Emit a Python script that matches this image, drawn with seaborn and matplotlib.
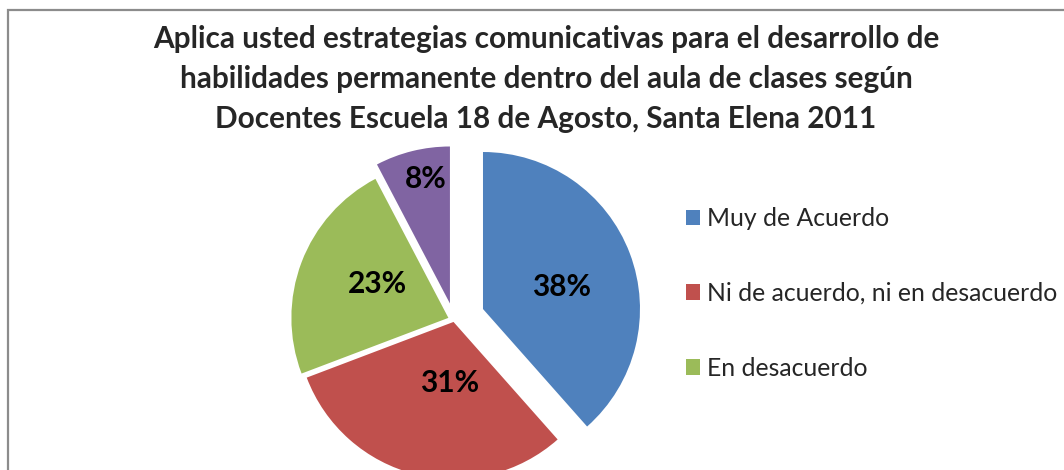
import numpy as np
import seaborn as sns
import matplotlib.pyplot as plt
from matplotlib.patches import Rectangle, Patch

# data
categorias = ["Muy de Acuerdo", "Ni de acuerdo, ni en desacuerdo", "En desacuerdo", "Otro"]
docentes = [5, 4, 3, 1]
en_leyenda = 3  # only the first three show up in the legend
colores = ["#4F81BD", "#C0504D", "#9BBB59", "#8064A2"]
titulo = ("Aplica usted estrategias comunicativas para el desarrollo de\n"
          "habilidades permanente dentro del aula de clases según\n"
          "Docentes Escuela 18 de Agosto, Santa Elena 2011")

# slice offsets (pixels), label distance (fraction of radius) and angle tweak (deg)
separacion = [31, 2, 6, 17]
dist_etiqueta = [0.52, 0.39, 0.50, 0.81]
giro_etiqueta = [-5, 10, -5, -3]

sns.set_theme(style="white")
plt.rcParams['font.family'] = ['Lato', 'DejaVu Sans']

W, H = 1064, 470
fig = plt.figure(figsize=(W / 100, H / 100), dpi=100)
ax = fig.add_axes([0, 0, 1, 1])

# chart area border (cut off on the right and bottom like the original)
fig.patches.append(Rectangle((8 / W, -0.1), 1.2, (H - 10) / H + 0.1, transform=fig.transFigure,
                             fill=False, edgecolor="#8c8c8c", linewidth=1.6))

wedges, texts, autotexts = ax.pie(
    docentes,
    colors=colores,
    explode=separacion,
    startangle=90,
    counterclock=False,
    center=(454, 150),
    radius=157,
    autopct=lambda p: f"{p:.0f}%",
    textprops=dict(fontsize=21.5, fontweight="bold", color="black"),
    wedgeprops=dict(linewidth=0),
    frame=True,
)
ax.set_xlim(0, W)
ax.set_ylim(0, H)
ax.set_aspect("equal")
ax.axis("off")

# put each percentage where Excel had it, near the slice bisector
for w, t, k, g in zip(wedges, autotexts, dist_etiqueta, giro_etiqueta):
    ang = np.deg2rad((w.theta1 + w.theta2) / 2 + g)
    cx, cy = w.center
    t.set_position((cx + k * w.r * np.cos(ang), cy + k * w.r * np.sin(ang)))
    t.set_ha("center")
    t.set_va("center")

fig.text(546 / W, 1 - 79 / H, titulo, ha="center", va="center", fontsize=21.4,
         fontweight="bold", linespacing=1.52)

handles = [Patch(facecolor=c, edgecolor="none") for c in colores[:en_leyenda]]
fig.legend(handles, categorias[:en_leyenda], loc="upper left",
           bbox_to_anchor=(676 / W, 1 - 197 / H), frameon=False, fontsize=17.8,
           handlelength=0.57, handleheight=0.57, handletextpad=0.3, labelspacing=2.1,
           borderaxespad=0)

fig.savefig("out.png", dpi=100)
